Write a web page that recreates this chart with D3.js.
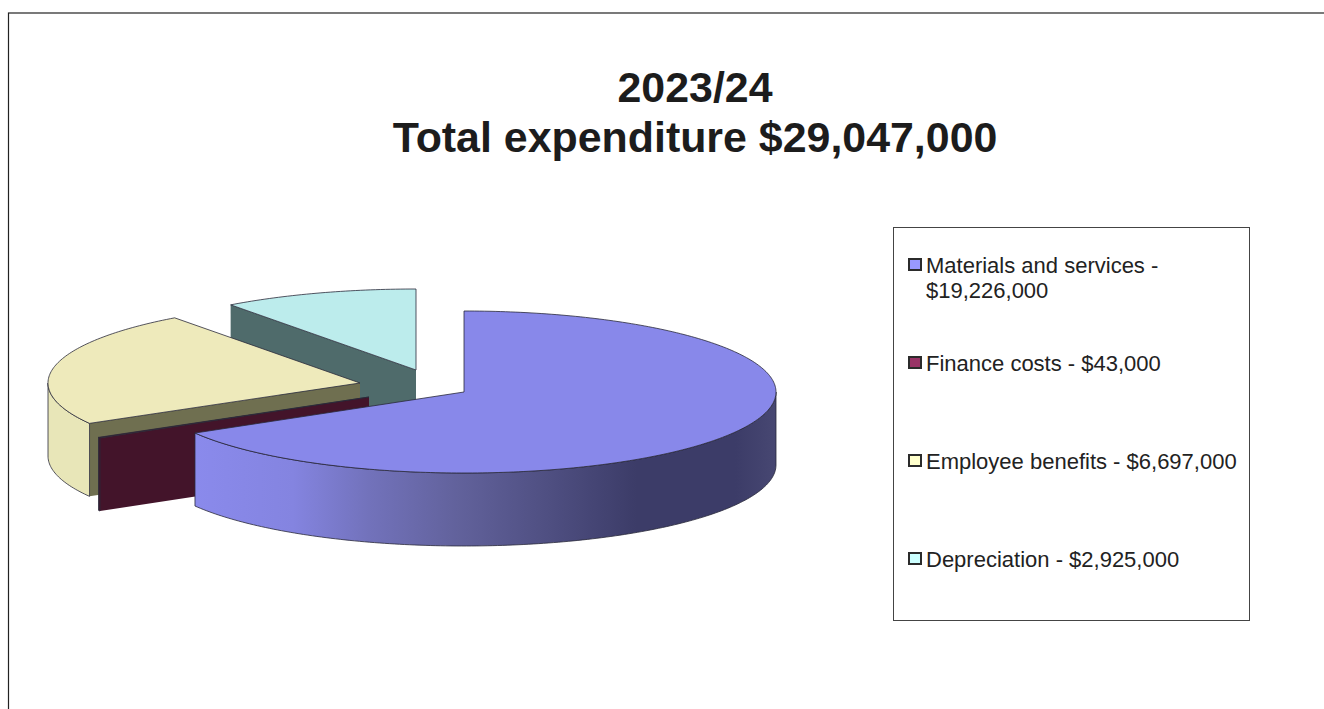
<!DOCTYPE html>
<html>
<head>
<meta charset="utf-8">
<style>
  html, body { margin: 0; padding: 0; background: #fff; overflow: hidden; }
  svg { display: block; font-family: "Liberation Sans", Arial, sans-serif; }
</style>
<script src="https://cdn.jsdelivr.net/npm/d3@7/dist/d3.min.js"></script>
</head>
<body>
<svg id="chart" width="1324" height="709"></svg>
<script>
// Expenditure by category, in dollars
const categories = ["Materials and services", "Finance costs", "Employee benefits", "Depreciation"];
const amounts = [19226000, 43000, 6697000, 2925000];
const titleLines = ["2023/24", "Total expenditure $29,047,000"];

// Tilted pie geometry
const radiusX = 312, radiusY = 81, depth = 73;
const pieCentre = [420, 385];
// How far each wedge is pulled out of the pie, in pixels
const pullOut = [[44, 7], [-51, 12], [-60, -2], [-4, -15]];

const topColours = ["#8888ea", "#43142a", "#eeeabb", "#bcecec"];
const cutColours = ["#4c4c85", "#43142a", "#6f6f50", "#4f6b6b"];
const rimColours = ["#8888ea", "#43142a", "#e8e6b8", "#bcecec"];
const swatchColours = ["#9999ff", "#993366", "#ffffcc", "#ccffff"];

const svg = d3.select("#chart");
const fmt = d3.format("$,");

// Page frame
svg.append("rect").attr("x", 8.5).attr("y", 13).attr("width", 1340).attr("height", 720)
  .attr("fill", "#fff").attr("stroke", "#222").attr("stroke-width", 1.2);

// Title
svg.append("text").attr("text-anchor", "middle").attr("font-weight", "bold")
  .attr("font-size", 42.9).attr("fill", "#1c1c1c")
  .selectAll("tspan").data(titleLines).join("tspan")
  .attr("x", 695).attr("y", (d, i) => 102 + i * 49.5).text(d => d);

// Shading across the rim of the large wedge, expressed in the wedge's own coordinates
const defs = svg.append("defs");
const rimShade = defs.append("linearGradient").attr("id", "rimShade")
  .attr("gradientUnits", "userSpaceOnUse")
  .attr("x1", -radiusX * 0.865).attr("x2", radiusX).attr("y1", 0).attr("y2", 0);
[[0, "#8a8aec"], [0.17, "#8484e0"], [0.3, "#7272bb"], [0.45, "#62629c"],
 [0.6, "#505083"], [0.76, "#3c3c68"], [0.93, "#3c3c68"], [1, "#474772"]]
  .forEach(([o, c]) => rimShade.append("stop").attr("offset", o).attr("stop-color", c));

// Wedge angles, clockwise from twelve o'clock
const wedges = d3.pie().sort(null).value(d => d)(amounts);

const px = d3.scaleLinear().domain([-1, 1]).range([-radiusX, radiusX]);
const py = d3.scaleLinear().domain([-1, 1]).range([-radiusY, radiusY]);
const onRim = a => [px(Math.sin(a)), py(-Math.cos(a))];
const line = d3.line();

function arcPoints(a0, a1, drop) {
  const n = Math.max(2, Math.ceil(Math.abs(a1 - a0) * 60));
  return d3.range(n + 1).map(i => {
    const p = onRim(a0 + (a1 - a0) * i / n);
    return [p[0], p[1] + drop];
  });
}

const outline = { stroke: "#2a2a3a", width: 0.8 };

// Painted back to front so nearer wedges overlap the ones behind them
[3, 2, 1, 0].forEach(i => {
  const w = wedges[i];
  const g = svg.append("g")
    .attr("transform", `translate(${pieCentre[0] + pullOut[i][0]},${pieCentre[1] + pullOut[i][1]})`);
  const cutStart = onRim(w.startAngle);

  // Cut face along the leading edge, visible on the left side of the pie
  if (w.startAngle > Math.PI) {
    g.append("path")
      .attr("d", line([[0, 0], cutStart, [cutStart[0], cutStart[1] + depth], [0, depth]]) + "Z")
      .attr("fill", cutColours[i]).attr("stroke", "none");
  }

  // Outer rim along the front half of the ellipse
  const a0 = Math.max(w.startAngle, Math.PI / 2);
  const a1 = Math.min(w.endAngle, 3 * Math.PI / 2);
  if (a1 > a0) {
    const topEdge = arcPoints(a0, a1, 0);
    const bottomEdge = arcPoints(a1, a0, depth);
    g.append("path").attr("d", line(topEdge.concat(bottomEdge)) + "Z")
      .attr("fill", i === 0 ? "url(#rimShade)" : rimColours[i])
      .attr("stroke", outline.stroke).attr("stroke-width", outline.width);
  }

  // Top face
  g.append("path")
    .attr("d", line([[0, 0]].concat(arcPoints(w.startAngle, w.endAngle, 0))) + "Z")
    .attr("fill", topColours[i])
    .attr("stroke", outline.stroke).attr("stroke-width", outline.width);
});

// Legend
const legendBox = { x: 893.5, y: 227.5, w: 356, h: 393 };
svg.append("rect").attr("x", legendBox.x).attr("y", legendBox.y)
  .attr("width", legendBox.w).attr("height", legendBox.h)
  .attr("fill", "#fff").attr("stroke", "#444").attr("stroke-width", 1);

const legendLabels = [
  [`${categories[0]} -`, fmt(amounts[0])],
  [`${categories[1]} - ${fmt(amounts[1])}`],
  [`${categories[2]} - ${fmt(amounts[2])}`],
  [`${categories[3]} - ${fmt(amounts[3])}`]
];
const legendY = d3.scaleLinear().domain([0, 3]).range([264.5, 558.5]);

const rows = svg.append("g").selectAll("g").data(legendLabels).join("g")
  .attr("transform", (d, i) => `translate(0,${legendY(i)})`);
rows.append("rect").attr("x", 909).attr("y", -5.5).attr("width", 12).attr("height", 11)
  .attr("fill", (d, i) => swatchColours[i]).attr("stroke", "#2b2b2b").attr("stroke-width", 2);
rows.append("text").attr("font-size", 22).attr("fill", "#222")
  .selectAll("tspan").data(d => d).join("tspan")
  .attr("x", 926).attr("y", (d, i) => 8 + i * 25.5).text(d => d);
</script>
</body>
</html>
